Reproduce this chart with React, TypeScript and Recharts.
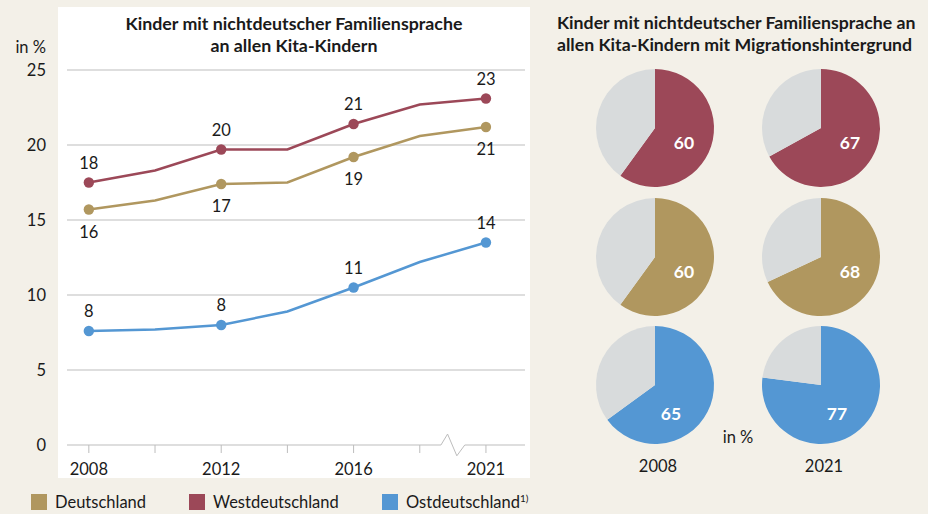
import {
  LineChart,
  Line,
  XAxis,
  YAxis,
  CartesianGrid,
  ReferenceLine,
  LabelList,
  PieChart,
  Pie,
  Cell,
} from 'recharts';

const years = ['2008', '2010', '2012', '2014', '2016', '2018', '2021'];
const deutschland = [15.7, 16.3, 17.4, 17.5, 19.2, 20.6, 21.2];
const westdeutschland = [17.5, 18.3, 19.7, 19.7, 21.4, 22.7, 23.1];
const ostdeutschland = [7.6, 7.7, 8.0, 8.9, 10.5, 12.2, 13.5];
const markedYears = ['2008', '2012', '2016', '2021'];
const yTicks = [0, 5, 10, 15, 20, 25];

const pieYears = ['2008', '2021'];
const pieWest = [60, 67];
const pieDeutschland = [60, 68];
const pieOst = [65, 77];

const FONT = 'Lato, "DejaVu Sans", sans-serif';
const TEXT = '#1a1a1a';
const BG = '#f3f0e8';
const GRID = '#bdbdbd';
const GOLD = '#b0975f';
const RED = '#9c4858';
const BLUE = '#5497d3';
const GREY = '#d8dbdc';

const lineData = years.map((year, i) => ({
  x: i,
  year,
  de: deutschland[i],
  west: westdeutschland[i],
  ost: ostdeutschland[i],
}));

const pieRows = [
  { color: RED, values: pieWest, dx: 29, dy: 14 },
  { color: GOLD, values: pieDeutschland, dx: 29, dy: 14 },
  { color: BLUE, values: pieOst, dx: 16, dy: 28 },
];
const pieCx = [115, 281];
const pieCy = [128, 257, 385];

function makeDot(color: string) {
  return (p: any) =>
    markedYears.includes(p.payload?.year) ? (
      <circle key={`d-${p.index}`} cx={p.cx} cy={p.cy} r={5.2} fill={color} />
    ) : (
      <g key={`d-${p.index}`} />
    );
}

function makeLabel(offset: number) {
  return (p: any) =>
    markedYears.includes(years[p.index]) ? (
      <text
        x={p.x}
        y={p.y + offset}
        textAnchor="middle"
        dominantBaseline="central"
        fontSize={16.5}
        fontFamily={FONT}
        fill={TEXT}
      >
        {Math.round(Number(p.value))}
      </text>
    ) : null;
}

export default function App() {
  return (
    <div
      style={{
        position: 'absolute',
        left: 0,
        top: 0,
        width: 928,
        height: 514,
        background: BG,
        fontFamily: FONT,
        color: TEXT,
        overflow: 'hidden',
      }}
    >
      <div style={{ position: 'absolute', left: 58, top: 7, width: 472, height: 471, background: '#fff' }} />
      <div
        style={{
          position: 'absolute',
          left: 58,
          top: 12,
          width: 472,
          textAlign: 'center',
          fontWeight: 700,
          fontSize: 17.8,
          lineHeight: '22px',
        }}
      >
        Kinder mit nichtdeutscher Familiensprache
        <br />
        an allen Kita-Kindern
      </div>
      <div style={{ position: 'absolute', left: 0, width: 46, top: 37, textAlign: 'right', fontSize: 16.5, lineHeight: '20px' }}>
        in %
      </div>

      <div style={{ position: 'absolute', left: 0, top: 0 }}>
        <LineChart width={540} height={480} data={lineData} margin={{ top: 70, right: 15, bottom: 5, left: 0 }}>
          <CartesianGrid vertical={false} horizontalValues={[5, 10, 15, 20, 25]} stroke={GRID} />
          <XAxis
            dataKey="x"
            type="number"
            domain={[-0.33, 6.59]}
            allowDataOverflow
            ticks={[0, 1, 2, 3, 4, 5, 6]}
            tickFormatter={(v: number) => (markedYears.includes(years[v]) ? years[v] : '')}
            axisLine={false}
            tickLine={{ stroke: GRID }}
            tickSize={8}
            tickMargin={10}
            height={30}
            tick={{ fontSize: 16.5, fill: TEXT, fontFamily: FONT }}
          />
          <YAxis
            domain={[0, 25]}
            ticks={yTicks}
            width={67}
            axisLine={false}
            tickLine={false}
            tickSize={0}
            tickMargin={21}
            tick={{ fontSize: 16.5, fill: TEXT, fontFamily: FONT }}
          />
          <ReferenceLine segment={[{ x: -0.33, y: 0 }, { x: 5.32, y: 0 }]} stroke={GRID} ifOverflow="visible" />
          <ReferenceLine segment={[{ x: 5.32, y: 0 }, { x: 5.42, y: 0.73 }]} stroke={GRID} ifOverflow="visible" />
          <ReferenceLine segment={[{ x: 5.42, y: 0.73 }, { x: 5.56, y: -0.72 }]} stroke={GRID} ifOverflow="visible" />
          <ReferenceLine segment={[{ x: 5.56, y: -0.72 }, { x: 5.68, y: 0 }]} stroke={GRID} ifOverflow="visible" />
          <ReferenceLine segment={[{ x: 5.68, y: 0 }, { x: 6.59, y: 0 }]} stroke={GRID} ifOverflow="visible" />
          <Line
            dataKey="de"
            type="linear"
            stroke={GOLD}
            strokeWidth={2.5}
            dot={makeDot(GOLD)}
            activeDot={false}
            isAnimationActive={false}
          >
            <LabelList dataKey="de" content={makeLabel(22)} />
          </Line>
          <Line
            dataKey="west"
            type="linear"
            stroke={RED}
            strokeWidth={2.5}
            dot={makeDot(RED)}
            activeDot={false}
            isAnimationActive={false}
          >
            <LabelList dataKey="west" content={makeLabel(-20)} />
          </Line>
          <Line
            dataKey="ost"
            type="linear"
            stroke={BLUE}
            strokeWidth={2.5}
            dot={makeDot(BLUE)}
            activeDot={false}
            isAnimationActive={false}
          >
            <LabelList dataKey="ost" content={makeLabel(-20)} />
          </Line>
        </LineChart>
      </div>

      {/* legend */}
      {[
        { name: 'Deutschland', color: GOLD, x: 31 },
        { name: 'Westdeutschland', color: RED, x: 189 },
        { name: 'Ostdeutschland', color: BLUE, x: 382, note: '1)' },
      ].map((item) => (
        <div key={item.name} style={{ position: 'absolute', left: item.x, top: 493, display: 'flex', alignItems: 'center' }}>
          <div style={{ width: 16, height: 16, background: item.color, marginRight: 8 }} />
          <span style={{ fontSize: 16.5, lineHeight: '18px' }}>
            {item.name}
            {item.note && <sup style={{ fontSize: 10, verticalAlign: 'top', lineHeight: '10px' }}>{item.note}</sup>}
          </span>
        </div>
      ))}

      {/* right panel */}
      <div
        style={{
          position: 'absolute',
          left: 557,
          top: 12,
          fontWeight: 700,
          fontSize: 17.7,
          lineHeight: '22px',
          whiteSpace: 'nowrap',
        }}
      >
        Kinder mit nichtdeutscher Familiensprache an
        <br />
        allen Kita-Kindern mit Migrationshintergrund
      </div>

      <div style={{ position: 'absolute', left: 540, top: 0 }}>
        <PieChart width={388} height={514} margin={{ top: 0, right: 0, bottom: 0, left: 0 }}>
          {pieRows.map((row, r) =>
            pieYears.map((year, c) => (
              <Pie
                key={`${r}-${year}`}
                data={[
                  { name: 'mit', value: row.values[c] },
                  { name: 'ohne', value: 100 - row.values[c] },
                ]}
                dataKey="value"
                cx={pieCx[c]}
                cy={pieCy[r]}
                outerRadius={59}
                startAngle={90}
                endAngle={-270}
                stroke="none"
                isAnimationActive={false}
                labelLine={false}
                label={(p: any) =>
                  p.index === 0 ? (
                    <text
                      x={pieCx[c] + row.dx}
                      y={pieCy[r] + row.dy}
                      textAnchor="middle"
                      dominantBaseline="central"
                      fill="#fff"
                      fontWeight={700}
                      fontSize={17.5}
                      fontFamily={FONT}
                    >
                      {p.value}
                    </text>
                  ) : null
                }
              >
                <Cell fill={row.color} />
                <Cell fill={GREY} />
              </Pie>
            ))
          )}
          <text x={198} y={437} textAnchor="middle" dominantBaseline="central" fontSize={16.5} fontFamily={FONT} fill={TEXT}>
            in %
          </text>
          {pieYears.map((year, c) => (
            <text
              key={year}
              x={pieCx[c] + 3}
              y={466}
              textAnchor="middle"
              dominantBaseline="central"
              fontSize={16.5}
              fontFamily={FONT}
              fill={TEXT}
            >
              {year}
            </text>
          ))}
        </PieChart>
      </div>
    </div>
  );
}
